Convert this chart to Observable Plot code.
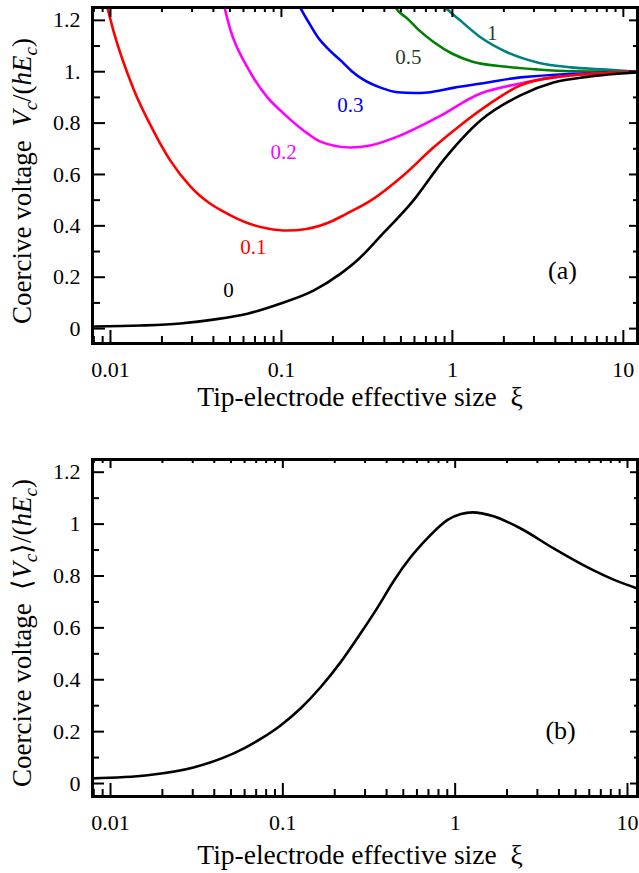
<!DOCTYPE html>
<html><head><meta charset="utf-8">
<script src="https://cdn.jsdelivr.net/npm/d3@7"></script>
<script src="https://cdn.jsdelivr.net/npm/@observablehq/plot@0.6"></script>
<style>body{margin:0;background:#fff} svg{display:block}</style>
</head><body><div id="chart"></div>
<script>
// ---------- DATA (panel a) ----------
const curveParams = ["0", "0.1", "0.2", "0.3", "0.5", "1"];
const curveColors = ["#000000", "#ff0000", "#ff00ff", "#0000ff", "#008000", "#008080"];
const labelColors = ["#000000", "#ff0000", "#ff00ff", "#0000ff", "#1f3f1f", "#1f3f1f"];

const xiA0 = [0.008, 0.015, 0.0256, 0.04, 0.0633, 0.098, 0.154, 0.221, 0.277, 0.38, 0.592, 0.885, 1.46, 2.5, 3.9, 6.15, 12.1];
const vA0  = [0.008, 0.012, 0.02, 0.035, 0.058, 0.097, 0.148, 0.213, 0.265, 0.36, 0.499, 0.655, 0.81, 0.908, 0.958, 0.98, 0.997];

const xiA1 = [0.0092, 0.0104, 0.0136, 0.0178, 0.0224, 0.0294, 0.033, 0.038, 0.045, 0.055, 0.065, 0.083, 0.108, 0.14, 0.2, 0.237, 0.336, 0.516, 0.774, 1.11, 1.6, 2.5, 3.9, 12.1];
const vA1  = [1.30, 1.16, 0.935, 0.771, 0.654, 0.553, 0.52, 0.488, 0.458, 0.428, 0.408, 0.39, 0.382, 0.388, 0.42, 0.445, 0.50, 0.596, 0.705, 0.791, 0.869, 0.947, 0.978, 1.0];

const xiA2 = [0.0446, 0.0504, 0.0633, 0.0828, 0.1028, 0.142, 0.169, 0.253, 0.331, 0.496, 0.817, 1.46, 2.5, 3.9, 12.1];
const vA2  = [1.30, 1.161, 1.017, 0.9, 0.838, 0.76, 0.728, 0.705, 0.713, 0.752, 0.822, 0.915, 0.954, 0.978, 1.0];

const xiA3 = [0.12, 0.13, 0.145, 0.163, 0.19, 0.221, 0.26, 0.3, 0.38, 0.477, 0.6, 0.714, 1.01, 1.6, 2.5, 12.1];
const vA3  = [1.29, 1.245, 1.19, 1.135, 1.085, 1.045, 1.0, 0.97, 0.938, 0.92, 0.917, 0.919, 0.937, 0.958, 0.978, 1.0];

const xiA4 = [0.44, 0.465, 0.55, 0.63, 0.78, 1.0, 1.3, 2.0, 3.1, 4.9, 12.1];
const vA4  = [1.28, 1.25, 1.205, 1.165, 1.115, 1.07, 1.04, 1.02, 1.009, 1.002, 1.0];

const xiA5 = [0.85, 0.91, 1.11, 1.46, 2.1, 3.14, 4.9, 7.6, 12.1];
const vA5  = [1.27, 1.25, 1.2, 1.134, 1.075, 1.036, 1.017, 1.009, 1.0];

// curve-label anchor points (data coordinates)
const labelXiA = [0.049, 0.0686, 0.103, 0.253, 0.553, 1.71];
const labelVA  = [0.148, 0.316, 0.686, 0.869, 1.056, 1.149];

// ---------- DATA (panel b) ----------
const xiB = [0.00786, 0.0164, 0.0303, 0.0518, 0.0743, 0.097, 0.127, 0.166, 0.216, 0.282, 0.355, 0.439, 0.551, 0.691, 0.822, 0.904, 1.08, 1.26, 1.67, 2.4, 3.73, 5.87, 8.3, 11.43];
const vB  = [0.02, 0.032, 0.062, 0.116, 0.172, 0.224, 0.29, 0.372, 0.467, 0.578, 0.679, 0.78, 0.872, 0.946, 0.995, 1.016, 1.039, 1.045, 1.03, 0.983, 0.906, 0.833, 0.786, 0.752];

// ---------- TICKS ----------
const xTicks = [0.01, 0.1, 1, 10];
const xTickLabels = ["0.01", "0.1", "1", "10"];
const yTicks = [0, 0.2, 0.4, 0.6, 0.8, 1.0, 1.2];
const yTickLabelsA = ["0", "0.2", "0.4", "0.6", "0.8", "1.", "1.2"];
const yTickLabelsB = ["0", "0.2", "0.4", "0.6", "0.8", "1", "1.2"];
const yMinorTicks = [0.1, 0.3, 0.5, 0.7, 0.9, 1.1];

const FONT = "'Liberation Serif', 'Times New Roman', serif";
const W = 639;

function minorX(domain) {
  const out = [];
  for (const d of [0.001, 0.01, 0.1, 1, 10]) for (let k = 2; k <= 9; k++) {
    const v = +(k * d).toPrecision(3);
    if (v > domain[0] && v < domain[1]) out.push(v);
  }
  return out;
}

function panel(opts) {
  const {height, marginTop, marginBottom, marginLeft, marginRight, xDomain, yDomain, yLabels, marks, tick} = opts;
  const innerH = height - marginTop - marginBottom;
  const innerW = W - marginLeft - marginRight;
  const xMin = minorX(xDomain);
  const svg = Plot.plot({
    width: W, height, marginTop, marginBottom, marginLeft, marginRight,
    style: {fontFamily: FONT, fontSize: "22px", background: "white", color: "black", overflow: "visible"},
    x: {type: "log", domain: xDomain, axis: null},
    y: {domain: yDomain, axis: null},
    marks: [
      ...marks,
      // bottom ticks (inward)
      Plot.tickX(xTicks, {x: d => d, insetTop: innerH - tick.bMaj, strokeWidth: 2}),
      Plot.tickX(xMin, {x: d => d, insetTop: innerH - tick.bMin, strokeWidth: 2}),
      // top ticks
      Plot.tickX(xTicks, {x: d => d, insetBottom: innerH - tick.tMaj, strokeWidth: 2}),
      Plot.tickX(xMin, {x: d => d, insetBottom: innerH - tick.tMin, strokeWidth: 2}),
      // left ticks
      Plot.tickY(yTicks, {y: d => d, insetRight: innerW - tick.lMaj, strokeWidth: 2}),
      Plot.tickY(yMinorTicks, {y: d => d, insetRight: innerW - tick.lMin, strokeWidth: 2}),
      // right ticks
      Plot.tickY(yTicks, {y: d => d, insetLeft: innerW - tick.rMaj, strokeWidth: 2}),
      Plot.tickY(yMinorTicks, {y: d => d, insetLeft: innerW - tick.rMin, strokeWidth: 2}),
      Plot.frame({stroke: "black", strokeWidth: 3}),
      // tick labels
      Plot.text(xTicks, {x: d => d, text: d => xTickLabels[xTicks.indexOf(d)], frameAnchor: "bottom", lineAnchor: "top", dy: 18, fontSize: 22, fill: "black"}),
      Plot.text(yTicks, {y: d => d, text: d => yLabels[yTicks.indexOf(d)], frameAnchor: "left", textAnchor: "end", dx: -12, fontSize: 22, fill: "black"})
    ]
  });
  return svg;
}

function addTitles(svg, {xTitleY, yTitleX, yTitleY, bracket}) {
  const s = d3.select(svg);
  s.append("text")
    .attr("x", 360).attr("y", xTitleY)
    .attr("text-anchor", "middle")
    .attr("font-family", FONT).attr("font-size", 27.5).attr("fill", "black")
    .text("Tip-electrode effective size\u00a0\u00a0\u03be");

  const yt = s.append("text")
    .attr("transform", `translate(${yTitleX},${yTitleY}) rotate(-90)`)
    .attr("text-anchor", "middle")
    .attr("font-family", FONT).attr("font-size", 27).attr("fill", "black");
  yt.append("tspan").text("Coercive voltage\u00a0\u00a0" + (bracket ? "\u27e8" : ""));
  yt.append("tspan").attr("font-style", "italic").text("V");
  yt.append("tspan").attr("font-style", "italic").attr("font-size", 19).attr("dy", 6).text("c");
  yt.append("tspan").attr("dy", -6).text((bracket ? "\u27e9" : "") + "/(");
  yt.append("tspan").attr("font-style", "italic").text("hE");
  yt.append("tspan").attr("font-style", "italic").attr("font-size", 19).attr("dy", 6).text("c");
  yt.append("tspan").attr("dy", -6).text(")");
}

// ---------- Panel (a) ----------
const seriesA = [[xiA0, vA0], [xiA1, vA1], [xiA2, vA2], [xiA3, vA3], [xiA4, vA4], [xiA5, vA5]];
const rowsA = seriesA.flatMap(([xs, vs], k) => xs.map((x, i) => ({xi: x, v: vs[i], p: curveParams[k]})));
const labelsA = curveParams.map((p, k) => ({xi: labelXiA[k], v: labelVA[k], p, c: labelColors[k]}));

const svgA = panel({
  height: 420, marginTop: 7, marginBottom: 77, marginLeft: 92, marginRight: 2,
  xDomain: [0.00785, 12.1], yDomain: [-0.058, 1.25], yLabels: yTickLabelsA,
  tick: {bMaj: 13, bMin: 7, tMaj: 10, tMin: 5, lMaj: 13, lMin: 8, rMaj: 8, rMin: 4},
  marks: [
    ...curveParams.slice().reverse().map(p => Plot.line(rowsA.filter(d => d.p === p), {
      x: "xi", y: "v", stroke: curveColors[curveParams.indexOf(p)], strokeWidth: 2.6, curve: "monotone-x", clip: true
    })),
    Plot.text(labelsA, {x: "xi", y: "v", text: "p", fill: "c", fontSize: 21}),
    Plot.text(["(a)"], {x: [4.4], y: [0.226], text: d => d, fontSize: 26, fill: "black"})
  ]
});
addTitles(svgA, {xTitleY: 406, yTitleX: 31, yTitleY: 181, bracket: false});

// ---------- Panel (b) ----------
const rowsB = xiB.map((x, i) => ({xi: x, v: vB[i]}));
const svgB = panel({
  height: 453, marginTop: 39, marginBottom: 77, marginLeft: 92, marginRight: 2,
  xDomain: [0.00786, 11.43], yDomain: [-0.05, 1.249], yLabels: yTickLabelsB,
  tick: {bMaj: 13, bMin: 7, tMaj: 9, tMin: 4, lMaj: 12, lMin: 7, rMaj: 7, rMin: 3},
  marks: [
    Plot.line(rowsB, {x: "xi", y: "v", stroke: "black", strokeWidth: 2.6, curve: "monotone-x", clip: true}),
    Plot.text(["(b)"], {x: [4.09], y: [0.204], text: d => d, fontSize: 26, fill: "black"})
  ]
});
addTitles(svgB, {xTitleY: 444, yTitleX: 31, yTitleY: 213, bracket: true});

document.getElementById("chart").append(svgA, svgB);
</script>
</body></html>
